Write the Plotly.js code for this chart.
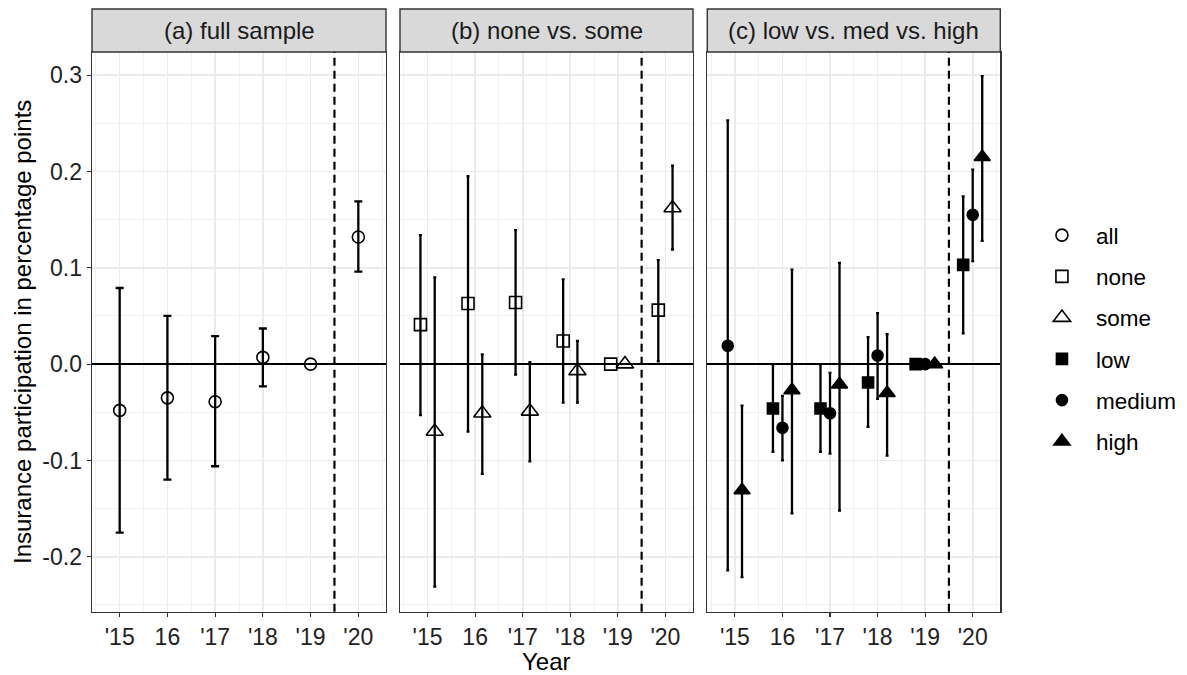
<!DOCTYPE html>
<html>
<head>
<meta charset="utf-8">
<script src="https://cdn.plot.ly/plotly-3.0.1.min.js"></script>
<style>html,body{margin:0;padding:0;background:#fff;}#chart{width:1187px;height:675px;}</style>
</head>
<body>
<div id="chart"></div>
<script>
// ---- data ----
const years = [2015, 2016, 2017, 2018, 2019, 2020];
const yearLabels = ["'15", "16", "'17", "'18", "'19", "'20"];
const yTickVals = [-0.2, -0.1, 0.0, 0.1, 0.2, 0.3];
const yTickText = ["-0.2", "-0.1", "0.0", "0.1", "0.2", "0.3"];
const panelTitles = ["(a) full sample", "(b) none vs. some", "(c) low vs. med vs. high"];
const treatmentYear = 2019.5;

// (a) full sample
const allEst = [-0.048, -0.035, -0.039, 0.007, 0.000, 0.132];
const allLo  = [-0.175, -0.120, -0.106, -0.023, null, 0.096];
const allHi  = [ 0.079,  0.050,  0.029,  0.037, null, 0.169];

// (b) none vs. some
const noneEst = [0.041, 0.063, 0.064, 0.024, 0.000, 0.056];
const noneLo  = [-0.053, -0.070, -0.011, -0.040, null, 0.003];
const noneHi  = [0.134, 0.195, 0.139, 0.088, null, 0.108];
const someEst = [-0.070, -0.051, -0.049, -0.007, 0.000, 0.162];
const someLo  = [-0.231, -0.114, -0.101, -0.040, null, 0.119];
const someHi  = [0.090, 0.010, 0.002, 0.024, null, 0.206];

// (c) low vs. medium vs. high
const lowEst  = [null, -0.046, -0.046, -0.019, 0.000, 0.103];
const lowLo   = [null, -0.091, -0.091, -0.065, null, 0.032];
const lowHi   = [null,  0.000,  0.000,  0.028, null, 0.174];
const medEst  = [0.019, -0.066, -0.051, 0.009, 0.000, 0.155];
const medLo   = [-0.214, -0.100, -0.093, -0.036, null, 0.107];
const medHi   = [0.253, -0.033, -0.009, 0.053, null, 0.202];
const highEst = [-0.131, -0.027, -0.021, -0.030, 0.000, 0.215];
const highLo  = [-0.221, -0.155, -0.152, -0.095, null, 0.128];
const highHi  = [-0.043, 0.098, 0.105, 0.031, null, 0.299];

// ---- helpers ----
const DODGE = 0.6;
function dodgeX(estList) {
  const out = estList.map(() => []);
  years.forEach((yr, j) => {
    const present = estList.map((e, k) => (e[j] === null ? -1 : k)).filter(k => k >= 0);
    const n = present.length;
    estList.forEach((e, k) => {
      const idx = present.indexOf(k);
      out[k].push(idx < 0 ? null : yr - DODGE / 2 + DODGE * (idx + 0.5) / n);
    });
  });
  return out;
}

function trace(name, xs, est, lo, hi, axisIdx, symbol, size, capW) {
  const up = est.map((v, i) => (hi[i] === null || v === null) ? NaN : hi[i] - v);
  const dn = est.map((v, i) => (lo[i] === null || v === null) ? NaN : v - lo[i]);
  const sfx = axisIdx === 1 ? '' : String(axisIdx);
  return {
    type: 'scatter', mode: 'markers', name: name, legendgroup: name,
    x: xs, y: est, xaxis: 'x' + sfx, yaxis: 'y' + sfx,
    marker: {symbol: symbol, size: size, color: '#000', line: {color: '#000', width: 1.6}},
    error_y: {type: 'data', symmetric: false, array: up, arrayminus: dn,
              width: capW, thickness: 2.3, color: '#000'},
    cliponaxis: false, hoverinfo: 'skip'
  };
}

const xa = [years.slice()];
const xb = dodgeX([noneEst, someEst]);
const xc = dodgeX([lowEst, medEst, highEst]);

const data = [
  trace('all', xa[0], allEst, allLo, allHi, 1, 'circle-open', 12, 4),
  trace('none', xb[0], noneEst, noneLo, noneHi, 2, 'square-open', 12, 1.5),
  trace('some', xb[1], someEst, someLo, someHi, 2, 'triangle-up-open', 15, 1.5),
  trace('low', xc[0], lowEst, lowLo, lowHi, 3, 'square', 11, 1.5),
  trace('medium', xc[1], medEst, medLo, medHi, 3, 'circle', 11, 1.5),
  trace('high', xc[2], highEst, highLo, highHi, 3, 'triangle-up', 14, 1.5)
];

// ---- layout ----
const W = 1187, H = 675;
const panelPx = [[92, 386], [400, 693], [707.3, 1000.3]];
const plotTop = 52, plotBottom = 611.7, stripTop = 9;
const yDom = [1 - plotBottom / H, 1 - plotTop / H];
const xMinor = years.map(y => y - 0.5).concat([years[years.length - 1] + 0.5]);
const yMinor = [-0.25, -0.15, -0.05, 0.05, 0.15, 0.25];

const FONT = 'Liberation Sans, Arial, Helvetica, sans-serif';
const layout = {
  width: W, height: H,
  margin: {l: 0, r: 0, t: 0, b: 0},
  paper_bgcolor: '#fff', plot_bgcolor: '#fff',
  font: {family: FONT, color: '#000', size: 22},
  showlegend: true,
  legend: {x: 0.866, y: 0.683, xanchor: 'left', yanchor: 'top',
           font: {size: 22.5, color: '#000'}, itemwidth: 58, tracegroupgap: 9,
           bgcolor: 'rgba(0,0,0,0)', borderwidth: 0},
  shapes: [], annotations: []
};

panelPx.forEach((px, i) => {
  const sfx = i === 0 ? '' : String(i + 1);
  const dom = [px[0] / W, px[1] / W];
  layout['xaxis' + sfx] = {
    domain: dom, range: [2014.42, 2020.58], anchor: 'y' + sfx,
    tickmode: 'array', tickvals: years, ticktext: yearLabels,
    ticks: 'outside', ticklen: 4, tickwidth: 1.2, tickcolor: '#333',
    tickfont: {size: 23, color: '#222'},
    showline: true, mirror: true, linecolor: '#333', linewidth: 1.4,
    showgrid: true, gridcolor: '#ebebeb', gridwidth: 1.6,
    minor: {tickvals: xMinor, showgrid: true, gridcolor: '#f2f2f2', gridwidth: 1, ticks: ''},
    zeroline: false, fixedrange: true
  };
  layout['yaxis' + sfx] = {
    domain: yDom, range: [-0.257, 0.324], anchor: 'x' + sfx,
    tickmode: 'array', tickvals: yTickVals, ticktext: yTickText,
    showticklabels: i === 0, ticks: i === 0 ? 'outside' : '',
    ticklen: 4, tickwidth: 1.2, tickcolor: '#333',
    tickfont: {size: 23, color: '#222'},
    showline: true, mirror: true, linecolor: '#333', linewidth: 1.4,
    showgrid: true, gridcolor: '#ebebeb', gridwidth: 1.6,
    minor: {tickvals: yMinor, showgrid: true, gridcolor: '#f2f2f2', gridwidth: 1, ticks: ''},
    zeroline: true, zerolinecolor: '#000', zerolinewidth: 2.2, fixedrange: true
  };
  // strip
  layout.shapes.push({type: 'rect', xref: 'paper', yref: 'paper',
    x0: dom[0], x1: dom[1], y0: 1 - plotTop / H, y1: 1 - stripTop / H,
    fillcolor: '#d9d9d9', line: {color: '#333', width: 1.4}, layer: 'above'});
  layout.annotations.push({xref: 'paper', yref: 'paper', x: (dom[0] + dom[1]) / 2,
    y: 1 - (plotTop + stripTop) / 2 / H, text: panelTitles[i], showarrow: false,
    xanchor: 'center', yanchor: 'middle', font: {size: 24, color: '#1a1a1a'}});
  // treatment line
  layout.shapes.push({type: 'line', xref: 'x' + sfx, yref: 'y' + sfx + ' domain',
    x0: treatmentYear, x1: treatmentYear, y0: 0, y1: 1,
    line: {color: '#000', width: 2.2, dash: '8px,5px'}, layer: 'above'});
});

layout.annotations.push({xref: 'paper', yref: 'paper', x: 22 / W, y: 1 - 332 / H,
  text: 'Insurance participation in percentage points', textangle: -90, showarrow: false,
  xanchor: 'center', yanchor: 'middle', font: {size: 24, color: '#000'}});
layout.annotations.push({xref: 'paper', yref: 'paper', x: 546.5 / W, y: 1 - 661.7 / H,
  text: 'Year', showarrow: false, xanchor: 'center', yanchor: 'middle',
  font: {size: 24, color: '#000'}});

Plotly.newPlot('chart', data, layout, {staticPlot: true, displayModeBar: false});
</script>
</body>
</html>
